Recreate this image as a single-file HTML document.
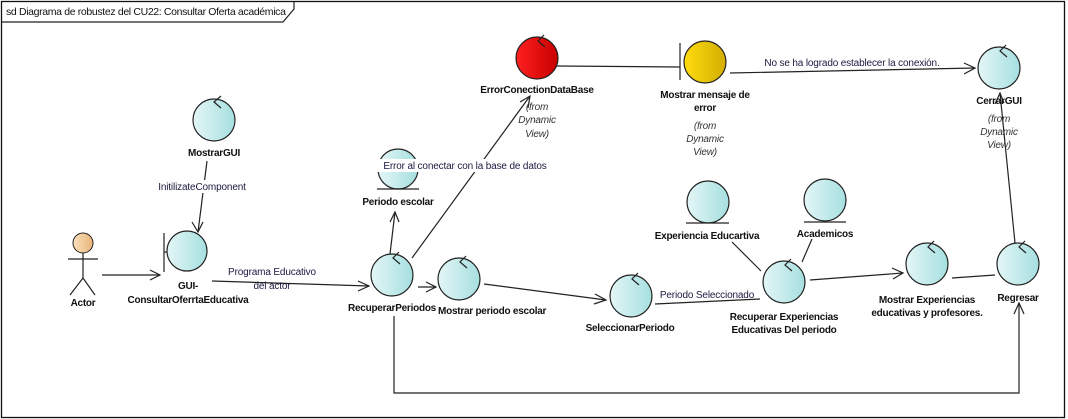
<!DOCTYPE html>
<html><head><meta charset="utf-8"><style>
html,body{margin:0;padding:0;background:#fff;}
svg{display:block;font-family:"Liberation Sans",sans-serif;}
.l{font-size:10px;font-weight:bold;fill:#111;text-anchor:middle;letter-spacing:-0.25px;}
.i{font-size:10px;font-style:italic;fill:#333;text-anchor:middle;letter-spacing:-0.2px;}
.c{font-size:10px;fill:#1a1a40;letter-spacing:-0.15px;}
.ln{stroke:#222;stroke-width:1.2;fill:none;}
.ci{stroke:#222;stroke-width:1.2;fill:url(#g);}
</style></head><body>
<svg width="1068" height="419" viewBox="0 0 1068 419">
<defs>
<linearGradient id="g" x1="0" x2="1"><stop offset="0" stop-color="#e4f6f6"/><stop offset="1" stop-color="#a6dfe0"/></linearGradient>
<linearGradient id="r" x1="0" x2="1"><stop offset="0" stop-color="#ff2020"/><stop offset="1" stop-color="#c80000"/></linearGradient>
<linearGradient id="y" x1="0" x2="1"><stop offset="0" stop-color="#ffdc10"/><stop offset="1" stop-color="#d2ad00"/></linearGradient>
<linearGradient id="a" x1="0" x2="1"><stop offset="0" stop-color="#fbe0bc"/><stop offset="1" stop-color="#e8b57a"/></linearGradient>
</defs>
<rect x="1.5" y="1.5" width="1063" height="416" fill="#fff" stroke="#111" stroke-width="1.3"/>
<path d="M1.5 22 H283 L294 9 V1.5" class="ln"/>
<text x="6" y="15" style="font-size:10.5px;fill:#111;letter-spacing:-0.35px">sd Diagrama de robustez del CU22: Consultar Oferta académica</text>

<g class="ln">
<line x1="207" y1="161" x2="198" y2="232"/><polyline points="192,222 198,232 203,222"/>
<line x1="102" y1="275" x2="160" y2="275"/><polyline points="150,270 160,275 150,280"/>
<line x1="212" y1="281" x2="369" y2="286"/><polyline points="358,281 369,286 358,291"/>
<line x1="390" y1="254" x2="395" y2="212"/><polyline points="390,222 395,212 399,222"/>
<line x1="412" y1="258" x2="530" y2="96"/><polyline points="520,102 530,96 528,108"/>
<line x1="557" y1="66" x2="680" y2="67"/>
<line x1="730" y1="73" x2="975" y2="68"/><polyline points="964,63 975,68 964,74"/>
<line x1="418" y1="287" x2="436" y2="287"/><polyline points="426,282 436,287 426,292"/>
<line x1="484" y1="284" x2="606" y2="300"/><polyline points="595,294 606,300 594,304"/>
<line x1="655" y1="304" x2="760" y2="299"/>
<line x1="732" y1="242" x2="761" y2="271"/>
<line x1="812" y1="239" x2="802" y2="262"/>
<line x1="810" y1="280" x2="903" y2="273"/><polyline points="892,268 903,273 893,279"/>
<line x1="952" y1="278" x2="995" y2="275"/>
<line x1="1015" y1="243" x2="1000" y2="93"/><polyline points="995,104 1000,93 1004,103"/>
<polyline points="394,316 394,393 1019,393 1019,303"/><polyline points="1014,314 1019,303 1024,314"/>
</g>
<rect x="224" y="265" width="96" height="12" fill="#fff"/>
<text class="c" x="272" y="275" text-anchor="middle">Programa Educativo</text>
<text class="c" x="272" y="289" text-anchor="middle">del actor</text>
<rect x="152" y="180" width="100" height="13" fill="#fff"/>
<text class="c" x="202" y="190" text-anchor="middle">InitilizateComponent</text>
<text class="c" x="852" y="66" text-anchor="middle">No se ha logrado establecer la conexión.</text>
<text class="c" x="707" y="298" text-anchor="middle">Periodo Seleccionado</text>

<circle cx="83" cy="243" r="10" fill="url(#a)" stroke="#222" stroke-width="1"/>
<g class="ln"><line x1="83" y1="253" x2="83" y2="278"/><line x1="68" y1="259" x2="98" y2="259"/><polyline points="70,295 83,278 95,295"/></g>
<text class="l" x="83" y="306">Actor</text>

<g>
<circle class="ci" cx="214" cy="120" r="21"/><polyline class="ln" points="221,96 214,102 221,108"/>
<text class="l" x="214" y="156">MostrarGUI</text>

<line class="ln" x1="164" y1="233" x2="164" y2="272"/><line class="ln" x1="164" y1="252" x2="167" y2="252"/>
<circle class="ci" cx="187" cy="251" r="20"/>
<text class="l" x="188" y="289">GUI-</text>
<text class="l" x="188" y="303">ConsultarOferrtaEducativa</text>

<circle class="ci" cx="392" cy="275" r="21"/><polyline class="ln" points="399,252 393,258 400,264"/>
<text class="l" x="436" y="311" style="text-anchor:end">RecuperarPeriodos</text>

<circle class="ci" cx="459" cy="279" r="21"/><polyline class="ln" points="466,256 460,262 467,268"/>
<text class="l" x="438" y="314" style="text-anchor:start">Mostrar periodo escolar</text>

<circle class="ci" cx="398" cy="169" r="20"/><line class="ln" x1="377" y1="189" x2="419" y2="189"/>
<rect x="376" y="159" width="178" height="13" fill="#fff"/>
<text class="c" x="465" y="169" text-anchor="middle">Error al conectar con la base de datos</text>
<text class="l" x="398" y="205">Periodo escolar</text>

<circle cx="537" cy="58" r="21" fill="url(#r)" stroke="#222" stroke-width="1.2"/><polyline class="ln" points="544,35 538,41 545,47"/>
<text class="l" x="537" y="93">ErrorConectionDataBase</text>
<text class="i" x="537" y="110">(from</text><text class="i" x="537" y="123">Dynamic</text><text class="i" x="537" y="137">View)</text>

<line class="ln" x1="680" y1="43" x2="680" y2="80"/>
<circle cx="705" cy="62" r="21" fill="url(#y)" stroke="#222" stroke-width="1.2"/>
<text class="l" x="705" y="98">Mostrar mensaje de</text><text class="l" x="705" y="111">error</text>
<text class="i" x="705" y="129">(from</text><text class="i" x="705" y="142">Dynamic</text><text class="i" x="705" y="155">View)</text>

<circle class="ci" cx="999" cy="68" r="21"/><polyline class="ln" points="1006,45 1000,51 1007,57"/>
<text class="l" x="999" y="104">CerrarGUI</text>
<text class="i" x="999" y="122">(from</text><text class="i" x="999" y="135">Dynamic</text><text class="i" x="999" y="148">View)</text>

<circle class="ci" cx="708" cy="202" r="21"/><line class="ln" x1="686" y1="223" x2="729" y2="223"/>
<text class="l" x="707" y="239">Experiencia Educartiva</text>
<circle class="ci" cx="825" cy="200" r="21"/><line class="ln" x1="804" y1="222" x2="846" y2="222"/>
<text class="l" x="825" y="237">Academicos</text>

<circle class="ci" cx="631" cy="296" r="21"/><polyline class="ln" points="638,273 632,279 639,285"/>
<text class="l" x="630" y="331">SeleccionarPeriodo</text>

<circle class="ci" cx="784" cy="282" r="21"/><polyline class="ln" points="791,259 785,265 792,271"/>
<text class="l" x="784" y="320">Recuperar Experiencias</text><text class="l" x="784" y="333">Educativas Del periodo</text>

<circle class="ci" cx="927" cy="264" r="21"/><polyline class="ln" points="934,241 928,247 935,253"/>
<text class="l" x="927" y="303">Mostrar Experiencias</text><text class="l" x="927" y="316">educativas y profesores.</text>

<circle class="ci" cx="1018" cy="264" r="21"/><polyline class="ln" points="1025,241 1019,247 1026,253"/>
<text class="l" x="1018" y="301">Regresar</text>
</g>
</svg>
</body></html>
